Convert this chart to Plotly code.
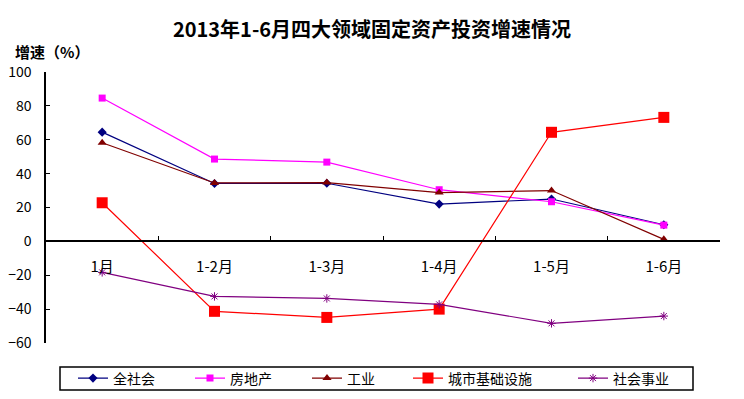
import plotly.graph_objects as go

categories = ["1月", "1-2月", "1-3月", "1-4月", "1-5月", "1-6月"]
quan_shehui = [64.5, 34.2, 34.3, 22.0, 25.0, 9.8]
fangdichan = [84.6, 48.6, 46.8, 30.5, 23.4, 9.6]
gongye = [58.2, 34.5, 34.7, 28.8, 30.0, 1.2]
chengshi_jichu = [22.8, -41.3, -44.9, -40.0, 64.4, 73.2]
shehui_shiye = [-18.3, -32.5, -33.7, -37.2, -48.4, -44.1]
y_ticks = [-60, -40, -20, 0, 20, 40, 60, 80, 100]

FONT = "Noto Sans CJK SC"

series = [
    ("全社会", quan_shehui, "#000080", "diamond", 7, None),
    ("房地产", fangdichan, "#FF00FF", "square", 7, None),
    ("工业", gongye, "#800000", "triangle-up", 8, None),
    ("城市基础设施", chengshi_jichu, "#FF0000", "square", 11, None),
    ("社会事业", shehui_shiye, "#800080", "asterisk-open", 7, 1),
]

# page body has an 8px margin: figure drawn at (8, 8)
W, H = 736, 391
L, T, PW, PH = 38, 64, 674, 271


def px_x(px):  # page pixel -> paper x
    return (px - 8 - L) / PW


def px_y(py):  # page pixel -> paper y
    return (T + PH - (py - 8)) / PH


legend_starts = [79, 196, 313, 414, 579]
legend_ids = ["legend", "legend2", "legend3", "legend4", "legend5"]

fig = go.Figure()
for (name, vals, color, sym, size, lw), lid in zip(series, legend_ids):
    marker = dict(symbol=sym, size=size, color=color)
    if lw:
        marker["line"] = dict(color=color, width=lw)
    else:
        marker["line"] = dict(width=0)
    fig.add_trace(go.Scatter(
        x=categories, y=vals, name=name, mode="lines+markers",
        line=dict(color=color, width=1.2), marker=marker, legend=lid,
    ))

leg_common = dict(orientation="h", xanchor="left", yanchor="middle",
                  bgcolor="rgba(0,0,0,0)", borderwidth=0,
                  font=dict(size=14, family=FONT), itemwidth=30)
legends = {}
for lid, sx in zip(legend_ids, legend_starts):
    legends[lid] = dict(leg_common, x=px_x(sx - 6), y=px_y(378.5))

fig.update_layout(
    width=W, height=H,
    margin=dict(l=L, r=W - L - PW, t=T, b=H - T - PH, autoexpand=False),
    paper_bgcolor="white", plot_bgcolor="white",
    font=dict(family=FONT, size=14, color="black"),
    showlegend=True,
    title=dict(text="<b>2013年1-6月四大领域固定资产投资增速情况</b>",
               x=px_x(372), xanchor="center", xref="paper", y=1 - 22 / H, yanchor="middle",
               font=dict(size=20, family=FONT, color="black")),
    xaxis=dict(type="category", range=[-0.5, 5.5], anchor="free", position=0.375,
               showline=True, linecolor="black", linewidth=1.5,
               ticks="inside", tickson="boundaries", ticklen=5, tickcolor="black",
               showgrid=False, zeroline=False, ticklabelstandoff=12,
               tickfont=dict(size=15, family=FONT)),
    yaxis=dict(range=[-60, 100], tickvals=y_ticks, showline=True, linecolor="black",
               linewidth=1.5, ticks="inside", ticklen=4, tickcolor="black",
               showgrid=False, zeroline=False, ticklabelstandoff=10,
               tickfont=dict(size=14, family=FONT)),
    annotations=[dict(text="<b>增速（%）</b>", xref="paper", yref="paper",
                      x=px_x(13), y=px_y(52), xanchor="left", yanchor="middle",
                      showarrow=False, font=dict(size=15, family=FONT))],
    shapes=[dict(type="rect", xref="paper", yref="paper",
                 x0=px_x(60), x1=px_x(693), y0=px_y(390), y1=px_y(367),
                 line=dict(color="black", width=1.5), fillcolor="rgba(0,0,0,0)",
                 layer="below")],
    **legends,
)

fig.write_html("out.html")
